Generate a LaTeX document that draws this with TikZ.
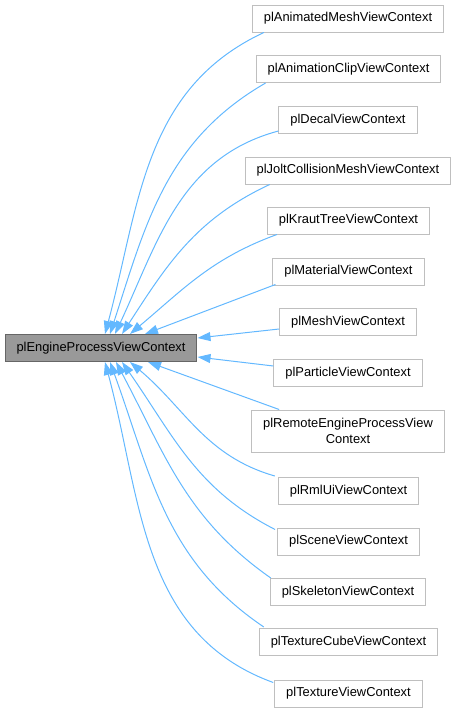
\documentclass[tikz,border=0pt]{standalone}
\usepackage{fontspec}
\setmainfont{Liberation Sans}
\usetikzlibrary{arrows.meta}
\definecolor{linkblue}{HTML}{63B8FF}
\definecolor{boxgrey}{HTML}{BFBFBF}
\tikzset{
  cls/.style={draw=boxgrey, fill=white, line width=1pt, inner xsep=11.5pt, inner ysep=0pt,
    minimum height=27pt, font=\fontsize{12.9}{16}\selectfont, align=center},
  base/.style={cls, draw=black!60, fill=black!40},
  link/.style={draw=linkblue, line width=1pt, -{Triangle[length=13pt,width=9pt]}}
}
\begin{document}
\begin{tikzpicture}[x=1pt,y=1pt]
  \useasboundingbox (0,0) rectangle (456,-712);
  \node[base] (engine) at (101,-348) {plEngineProcessViewContext};
  \node[cls] (anim)     at (348,-18.5) {plAnimatedMeshViewContext};
  \node[cls] (clip)     at (348.5,-69) {plAnimationClipViewContext};
  \node[cls] (decal)    at (348,-120) {plDecalViewContext};
  \node[cls] (jolt)     at (348,-170.5) {plJoltCollisionMeshViewContext};
  \node[cls] (kraut)    at (348.5,-220.5) {plKrautTreeViewContext};
  \node[cls] (material) at (348.5,-271.5) {plMaterialViewContext};
  \node[cls] (mesh)     at (348,-322) {plMeshViewContext};
  \node[cls] (particle) at (348,-373) {plParticleViewContext};
  \node[cls, minimum height=42pt] (remote) at (348,-431) {plRemoteEngineProcessView\\Context};
  \node[cls] (rmlui)    at (348.5,-491) {plRmlUiViewContext};
  \node[cls] (scene)    at (348.5,-541.5) {plSceneViewContext};
  \node[cls] (skeleton) at (348,-592) {plSkeletonViewContext};
  \node[cls] (cube)     at (348.5,-642) {plTextureCubeViewContext};
  \node[cls] (texture)  at (348.5,-693.5) {plTextureViewContext};
  % upper derived classes
  \draw[link] ([shift={(12,0)}]anim.south west) to[out=205,in=75] ([shift={(4,0)}]engine.north);
  \draw[link] ([shift={(10,0)}]clip.south west) to[out=210,in=72] ([shift={(9,0)}]engine.north);
  \draw[link] ([shift={(0,3)}]decal.south west) to[out=195,in=65] ([shift={(14,0)}]engine.north);
  \draw[link] ([shift={(25,0)}]jolt.south west) to[out=205,in=57] ([shift={(21,0)}]engine.north);
  \draw[link] ([shift={(10,0)}]kraut.south west) to[out=200,in=40] ([shift={(29,0)}]engine.north);
  \draw[link] ([shift={(3,1)}]material.south west) -- ([shift={(44,0)}]engine.north);
  \draw[link] ([shift={(0,-7)}]mesh.west) -- ([shift={(0,10)}]engine.east);
  \draw[link] ([shift={(0,7)}]particle.west) -- ([shift={(0,-9)}]engine.east);
  % lower derived classes
  \draw[link] ([shift={(28,0)}]remote.north west) -- ([shift={(47,0)}]engine.south);
  \draw[link] ([shift={(-3,1)}]rmlui.north west) to[out=164,in=-40] ([shift={(29,0)}]engine.south);
  \draw[link] ([shift={(-2,-2)}]scene.north west) to[out=153,in=-55] ([shift={(21,0)}]engine.south);
  \draw[link] ([shift={(1,0)}]skeleton.north west) to[out=145,in=-62] ([shift={(15,0)}]engine.south);
  \draw[link] ([shift={(5,1)}]cube.north west) to[out=146,in=-70] ([shift={(9,0)}]engine.south);
  \draw[link] ([shift={(-1,-3)}]texture.north west) to[out=160,in=-75] ([shift={(4,0)}]engine.south);
\end{tikzpicture}
\end{document}
